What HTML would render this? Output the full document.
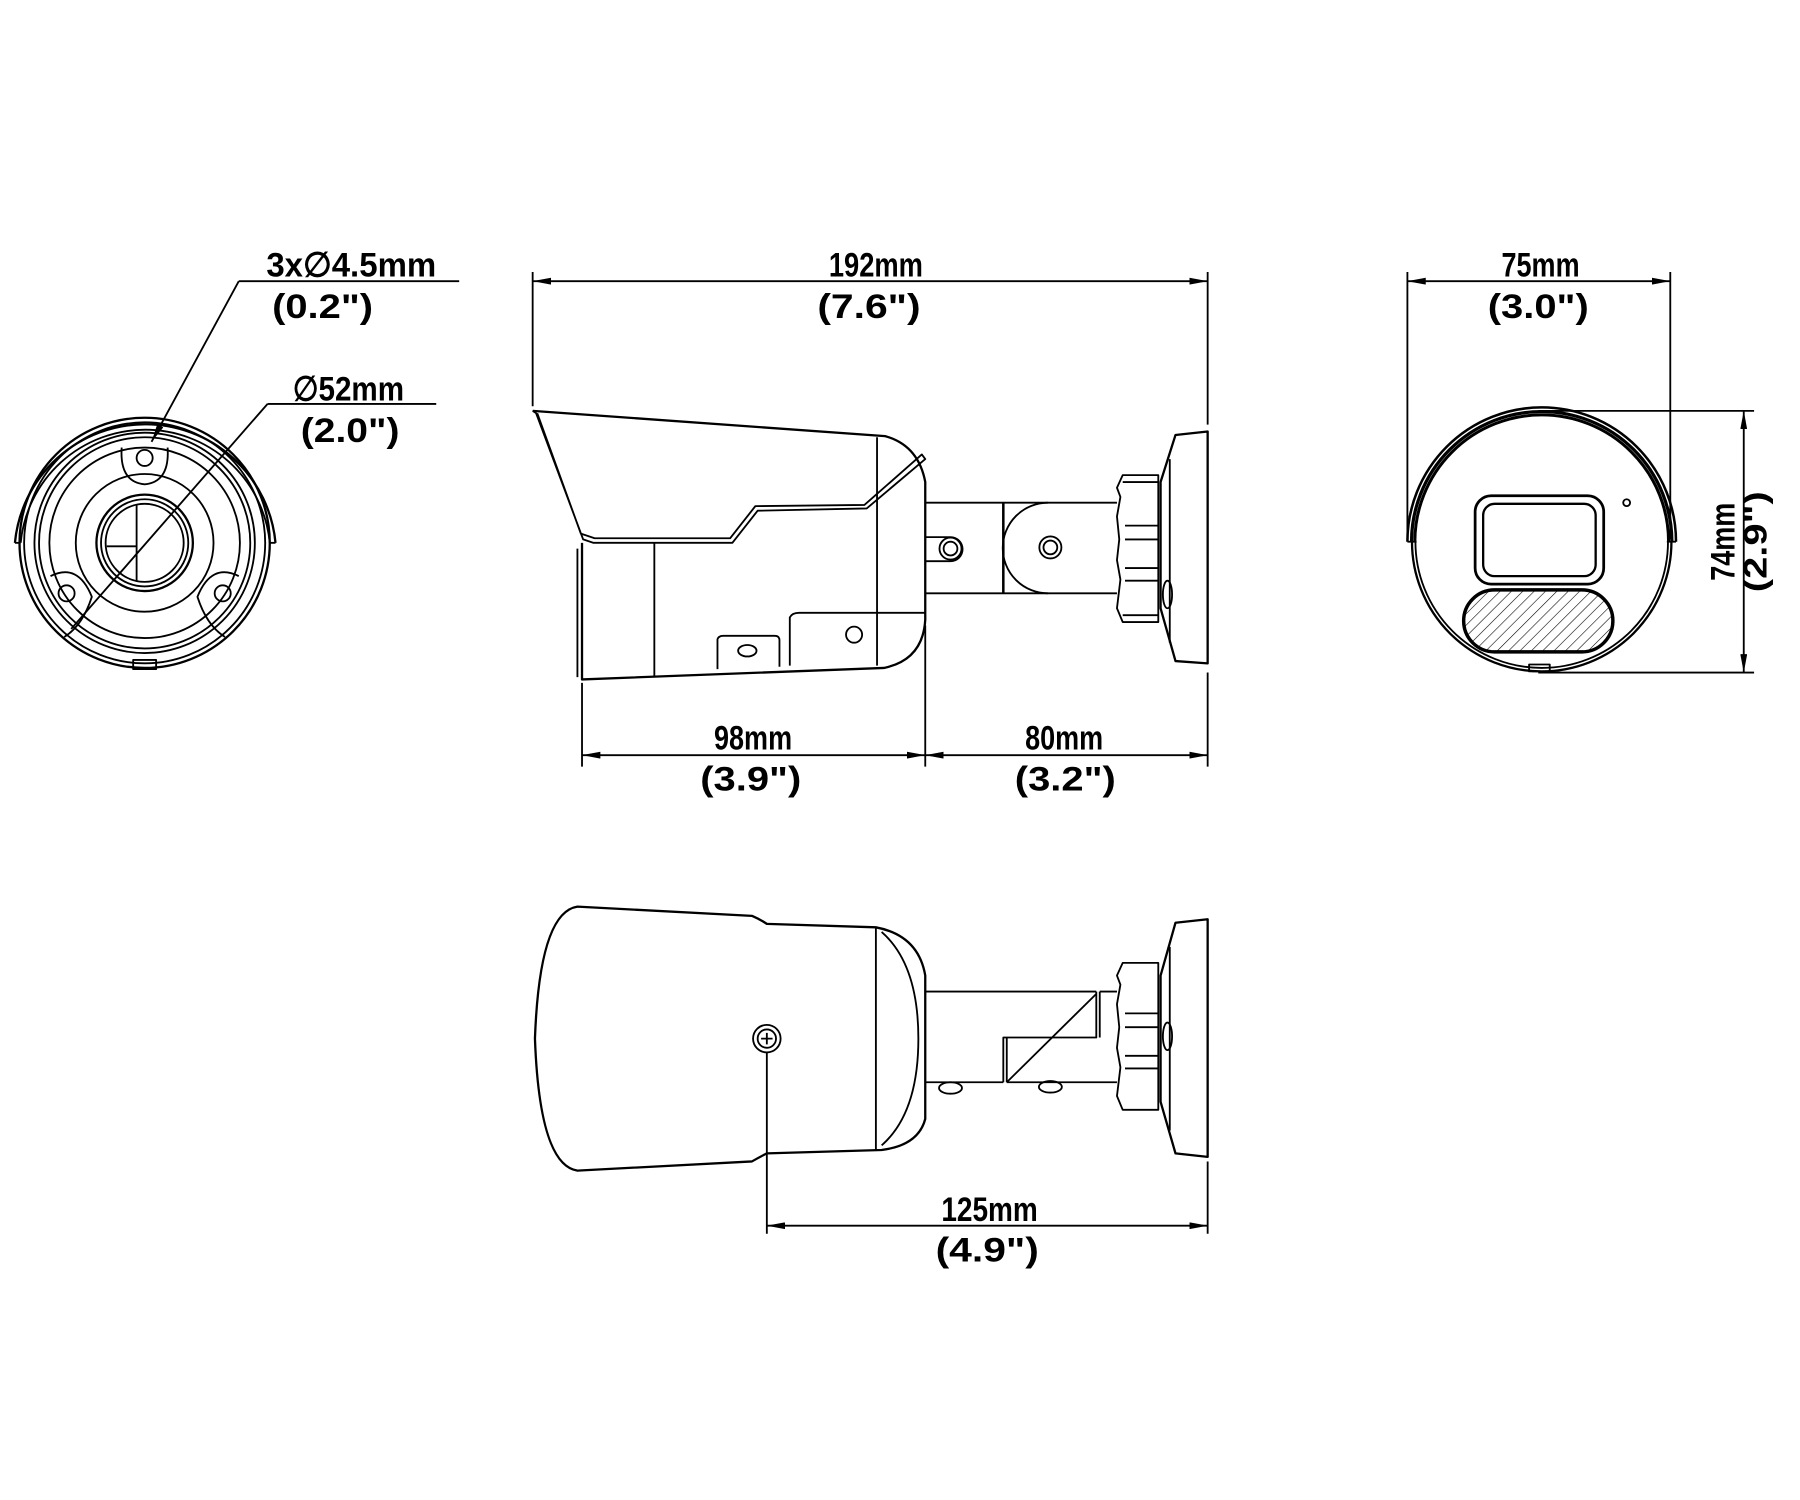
<!DOCTYPE html>
<html><head><meta charset="utf-8"><style>
html,body{margin:0;padding:0;background:#fff;}
svg{display:block;}
text{font-family:"Liberation Sans Narrow","Liberation Sans",sans-serif;font-weight:bold;fill:#000;}
</style></head><body>
<svg width="1800" height="1500" viewBox="0 0 1568 1307" preserveAspectRatio="none" xmlns="http://www.w3.org/2000/svg">
<defs>
<marker id="ae" markerWidth="16" markerHeight="6" refX="16" refY="3" orient="auto" markerUnits="userSpaceOnUse"><path d="M0,0 L16,3 L0,6 Z" fill="#000"/></marker>
<marker id="as" markerWidth="16" markerHeight="6" refX="0" refY="3" orient="auto" markerUnits="userSpaceOnUse"><path d="M16,0 L0,3 L16,6 Z" fill="#000"/></marker>
<pattern id="hat" width="7" height="7" patternUnits="userSpaceOnUse" patternTransform="rotate(45)"><line x1="0" y1="0" x2="0" y2="7" stroke="#000" stroke-width="1"/></pattern>
</defs>
<g fill="none" stroke="#000" stroke-width="1.6" stroke-linejoin="round">

<path d="M13,473 A114,114 0 0 1 240,473" stroke-width="2"/>
<path d="M18,473 A109,109 0 0 1 235,473"/>
<line x1="13" y1="473" x2="18" y2="473"/><line x1="235" y1="473" x2="240" y2="473"/>
<circle cx="126" cy="473" r="109" stroke-width="2"/>
<circle cx="126" cy="473" r="105"/>
<circle cx="126" cy="473" r="96"/>
<circle cx="126" cy="473" r="92"/>
<circle cx="126" cy="473" r="83"/>
<circle cx="126" cy="473" r="60"/>
<circle cx="126" cy="473" r="42" stroke-width="2"/>
<circle cx="126" cy="473" r="38"/>
<circle cx="126" cy="473" r="34"/>
<line x1="119" y1="440" x2="119" y2="506"/><line x1="93" y1="476" x2="119" y2="476"/>
<circle cx="126" cy="399" r="7"/>
<circle cx="58" cy="517" r="7"/>
<circle cx="194" cy="517" r="7"/>
<path d="M106,390 Q104,420 126,422 Q148,420 146,390"/>
<path d="M44,502 Q68,490 80,520 Q72,545 56,555"/>
<path d="M208,502 Q184,490 172,520 Q180,545 196,555"/>
<rect x="116" y="575" width="20" height="8"/>
<line x1="400" y1="245" x2="208" y2="245"/>
<line x1="208" y1="245" x2="132" y2="385" marker-end="url(#ae)"/>
<line x1="380" y1="352" x2="233" y2="352"/>
<line x1="233" y1="352" x2="62" y2="548"/>

<line x1="464" y1="245" x2="1052" y2="245" marker-start="url(#as)" marker-end="url(#ae)"/>
<line x1="464" y1="237" x2="464" y2="354"/>
<line x1="1052" y1="237" x2="1052" y2="370"/>
<path d="M464,358 L771,380 Q800,388 806,420 L806,540 Q804,575 770,582 L507,592 L507,473" stroke-width="2"/>
<path d="M464,358 L467,360 L508,470 L517,473 L638,473 L660,445 L755,443 L806,400 L803,396 L753,440 L658,441 L636,469 L518,469 L506,465 L468,360" />
<line x1="570" y1="473" x2="570" y2="590"/>
<line x1="764" y1="381" x2="764" y2="580"/>
<line x1="503" y1="478" x2="503" y2="590"/>
<path d="M625,583 L625,557 Q626,554 630,554 L675,554 Q679,554 679,558 L679,581"/>
<ellipse cx="651" cy="567" rx="8" ry="5"/>
<path d="M688,580 L688,538 Q690,534 696,534 L806,534"/>
<circle cx="744" cy="553" r="7"/>
<path d="M806,438 L973,438 M806,517 L973,517"/>
<line x1="874" y1="438" x2="874" y2="517" stroke-width="2.2"/>
<path d="M913,438 A39,39 0 0 0 913,517"/>
<circle cx="915" cy="477" r="9.6"/><circle cx="915" cy="477" r="6"/>
<path d="M806,468 L828,468 A10.5,10.5 0 0 1 828,489 L806,489"/>
<circle cx="828" cy="478" r="9.6"/><circle cx="828" cy="478" r="6"/>
<path d="M978,414 L1009,414 L1009,542 L978,542 L973,530 L976,505 L973,488 L975,470 L973,450 L976,433 L973,425 Z"/>
<line x1="978" y1="420" x2="1009" y2="420"/><line x1="980" y1="458" x2="1009" y2="458"/>
<line x1="980" y1="470" x2="1009" y2="470"/><line x1="980" y1="495" x2="1009" y2="495"/>
<line x1="980" y1="506" x2="1009" y2="506"/><line x1="978" y1="536" x2="1009" y2="536"/>
<path d="M1024,379 L1052,376 L1052,578 L1024,576 L1011,530 L1011,420 Z" stroke-width="2"/>
<line x1="1019" y1="400" x2="1019" y2="560"/>
<ellipse cx="1017" cy="518" rx="4" ry="12"/>
<line x1="507" y1="595" x2="507" y2="668"/>
<line x1="806" y1="545" x2="806" y2="668"/>
<line x1="1052" y1="586" x2="1052" y2="668"/>
<line x1="507" y1="658" x2="806" y2="658" marker-start="url(#as)" marker-end="url(#ae)"/>
<line x1="806" y1="658" x2="1052" y2="658" marker-start="url(#as)" marker-end="url(#ae)"/>

<line x1="1226" y1="245" x2="1455" y2="245" marker-start="url(#as)" marker-end="url(#ae)"/>
<line x1="1226" y1="237" x2="1226" y2="470"/>
<line x1="1455" y1="237" x2="1455" y2="470"/>
<circle cx="1343" cy="472" r="113" stroke-width="2"/>
<circle cx="1343" cy="472" r="110"/>
<path d="M1226,472 A117,117 0 0 1 1460,472" stroke-width="2.2"/>
<path d="M1229,472 A114,114 0 0 1 1457,472"/>
<path d="M1232,472 A111,111 0 0 1 1454,472"/>
<line x1="1226" y1="472" x2="1234" y2="472"/><line x1="1452" y1="472" x2="1460" y2="472"/>
<rect x="1285" y="432" width="112" height="77" rx="14" stroke-width="2.4"/>
<rect x="1292" y="439" width="98" height="63" rx="10" stroke-width="2"/>
<rect x="1275" y="514" width="130" height="54" rx="27" fill="url(#hat)" stroke-width="3"/>
<circle cx="1417" cy="438" r="3"/>
<rect x="1332" y="579" width="18" height="6"/>
<line x1="1340" y1="358" x2="1528" y2="358"/>
<line x1="1340" y1="586" x2="1528" y2="586"/>
<line x1="1519" y1="358" x2="1519" y2="586" marker-start="url(#as)" marker-end="url(#ae)"/>

<path d="M503,790 L655,798 Q662,801 668,805 L763,808 Q800,815 806,850 L806,975 Q800,998 768,1002 L668,1005 Q662,1008 655,1012 L503,1020 Q470,1015 466,905 Q470,795 503,790 Z" stroke-width="2"/>
<line x1="763" y1="808" x2="763" y2="1002"/>
<path d="M768,812 Q800,840 800,905 Q800,970 768,998"/>
<circle cx="668" cy="905" r="12"/><circle cx="668" cy="905" r="8"/>
<path d="M663,905 L673,905 M668,900 L668,910"/>
<path d="M806,864 L955,864 M958,864 L973,864 M806,943 L874,943 M877,943 L973,943"/>
<path d="M955,864 L955,904 L874,904 L874,943 M958,864 L958,904 M877,904 L877,943"/>
<line x1="877" y1="943" x2="955" y2="866"/>
<ellipse cx="828" cy="948" rx="10" ry="5"/><ellipse cx="915" cy="947" rx="10" ry="5"/>
<path d="M978,839 L1009,839 L1009,967 L978,967 L973,955 L976,930 L973,913 L975,895 L973,875 L976,858 L973,850 Z"/>
<line x1="980" y1="883" x2="1009" y2="883"/><line x1="980" y1="895" x2="1009" y2="895"/>
<line x1="980" y1="920" x2="1009" y2="920"/><line x1="980" y1="931" x2="1009" y2="931"/>
<path d="M1024,804 L1052,801 L1052,1008 L1024,1005 L1011,960 L1011,850 Z" stroke-width="2"/>
<line x1="1019" y1="825" x2="1019" y2="985"/>
<ellipse cx="1017" cy="903" rx="4" ry="12"/>
<line x1="668" y1="917" x2="668" y2="1075"/>
<line x1="1052" y1="1012" x2="1052" y2="1075"/>
<line x1="668" y1="1068" x2="1052" y2="1068" marker-start="url(#as)" marker-end="url(#ae)"/>
</g>

<g font-size="30">
<text x="232" y="241" textLength="148" lengthAdjust="spacingAndGlyphs">3x∅4.5mm</text>
<text x="237" y="277" textLength="88" lengthAdjust="spacingAndGlyphs">(0.2")</text>
<text x="255" y="349" textLength="97" lengthAdjust="spacingAndGlyphs">∅52mm</text>
<text x="262" y="385" textLength="86" lengthAdjust="spacingAndGlyphs">(2.0")</text>
<text x="722" y="241" textLength="82" lengthAdjust="spacingAndGlyphs">192mm</text>
<text x="712" y="277" textLength="90" lengthAdjust="spacingAndGlyphs">(7.6")</text>
<text x="622" y="653" textLength="68" lengthAdjust="spacingAndGlyphs">98mm</text>
<text x="610" y="689" textLength="88" lengthAdjust="spacingAndGlyphs">(3.9")</text>
<text x="893" y="653" textLength="68" lengthAdjust="spacingAndGlyphs">80mm</text>
<text x="884" y="689" textLength="88" lengthAdjust="spacingAndGlyphs">(3.2")</text>
<text x="1308" y="241" textLength="68" lengthAdjust="spacingAndGlyphs">75mm</text>
<text x="1296" y="277" textLength="88" lengthAdjust="spacingAndGlyphs">(3.0")</text>
<text x="820" y="1064" textLength="84" lengthAdjust="spacingAndGlyphs">125mm</text>
<text x="815" y="1099" textLength="90" lengthAdjust="spacingAndGlyphs">(4.9")</text>
<text transform="translate(1511,506) rotate(-90)" textLength="68" lengthAdjust="spacingAndGlyphs">74mm</text>
<text transform="translate(1539,516) rotate(-90)" font-size="28" textLength="88" lengthAdjust="spacingAndGlyphs">(2.9")</text>
</g>
</svg>
</body></html>
